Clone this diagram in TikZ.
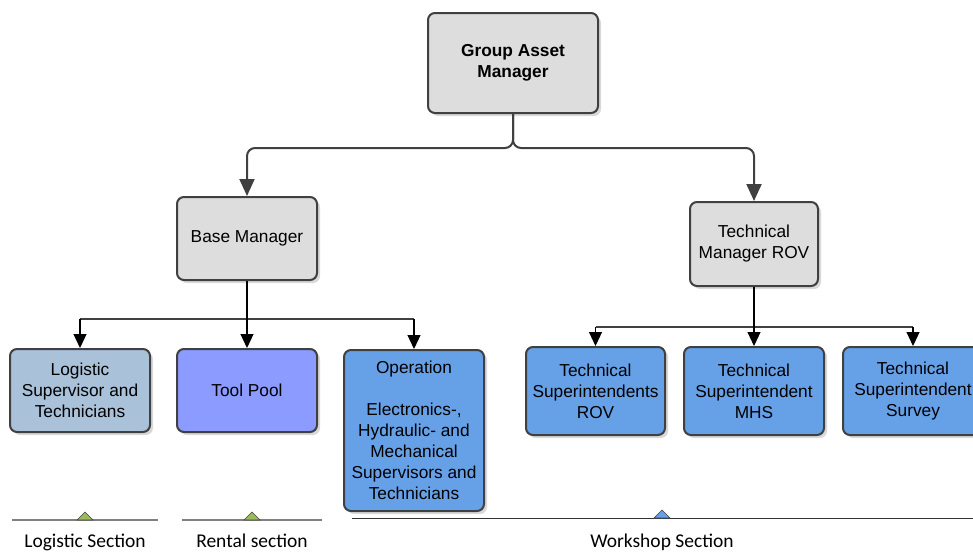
\documentclass[tikz,border=0pt]{standalone}
\usepackage{fontspec}
\setmainfont{Liberation Sans}
\newfontfamily\labelfont{Carlito}
\usetikzlibrary{arrows.meta,shadows}
\definecolor{boxgray}{HTML}{DDDDDD}
\definecolor{edgegray}{HTML}{404040}
\definecolor{logblue}{HTML}{A9C1D9}
\definecolor{poolblue}{HTML}{8B9BFF}
\definecolor{wsblue}{HTML}{66A1E8}
\definecolor{secgreen}{HTML}{9BBB59}
\definecolor{secline}{HTML}{808080}
\tikzset{
  orgbox/.style={draw=edgegray, line width=2pt, rounded corners=7pt,
    align=center, inner sep=0pt, font=\fontsize{17.3}{21}\selectfont,
    drop shadow={shadow xshift=3pt, shadow yshift=-3pt, opacity=0.3, fill=gray}},
  topedge/.style={draw=edgegray, line width=2pt, rounded corners=8pt,
    -{Triangle[length=17pt,width=15pt]}},
  subedge/.style={draw=black, line width=1.1pt,
    -{Triangle[length=14pt,width=13pt]}},
  subline/.style={draw=edgegray, line width=1.1pt},
  sectline/.style={draw=secline, line width=1.3pt},
  sectmark/.style={draw=edgegray, line width=0.6pt},
  sectlabel/.style={font=\labelfont\fontsize{19.5}{23}\selectfont, inner sep=0pt, anchor=base}
}
\begin{document}
\begin{tikzpicture}[x=1pt,y=-1pt]
\useasboundingbox (0,0) rectangle (973,552);

% management boxes
\node[orgbox, fill=boxgray, minimum width=170pt, minimum height=100pt,
      font=\bfseries\fontsize{17.3}{21}\selectfont] (gam) at (513,63)
      {\raisebox{-2pt}{\parbox{150pt}{\centering Group Asset\\Manager}}};
\node[orgbox, fill=boxgray, minimum width=140pt, minimum height=83pt] (bm)
      at (247,238.5) {Base Manager};
\node[orgbox, fill=boxgray, minimum width=128pt, minimum height=84pt] (tm)
      at (754,244) {Technical\\Manager ROV};

% section boxes
\node[orgbox, fill=logblue, minimum width=140pt, minimum height=83pt] (lg)
      at (80,390.5) {Logistic\\Supervisor and\\Technicians};
\node[orgbox, fill=poolblue, minimum width=140pt, minimum height=83pt] (tp)
      at (247,390.5) {Tool Pool};
\node[orgbox, fill=wsblue, minimum width=140pt, minimum height=161pt] (op)
      at (414,430.5) {Operation\\[21pt]Electronics-,\\Hydraulic- and\\Mechanical\\Supervisors and\\Technicians};
\node[orgbox, fill=wsblue, minimum width=139pt, minimum height=88pt] (tsr)
      at (595.5,391) {Technical\\Superintendents\\ROV};
\node[orgbox, fill=wsblue, minimum width=140pt, minimum height=88pt] (tsm)
      at (754,391) {Technical\\Superintendent\\MHS};
\node[orgbox, fill=wsblue, minimum width=140pt, minimum height=88pt] (tss)
      at (913,391) {Technical\\Superintendent\\Survey};

% top level connectors
\coordinate (gj) at (513,148);
\draw[topedge] (gam.south) -- (gj) -| (bm.north);
\draw[topedge] (gam.south) -- (gj) -| (tm.north);

% base manager connectors
\coordinate (bj) at (247,319);
\draw[subline] (bj -| lg.north) -- (bj -| op.north);
\draw[subedge] (bj -| lg.north) -- (lg.north);
\draw[subedge] (bj -| op.north) -- (op.north);
\draw[subedge] (bm.south) -- (tp.north);

% technical manager connectors
\coordinate (tj) at (754,327);
\draw[subline] (tj -| tsr.north) -- (tj -| tss.north);
\draw[subedge] (tj -| tsr.north) -- (tsr.north);
\draw[subedge] (tj -| tss.north) -- (tss.north);
\draw[subedge] (tm.south) -- (tsm.north);

% section markers
\coordinate (ls1) at (12,520);  \coordinate (ls2) at (158,520);
\coordinate (rs1) at (182,520); \coordinate (rs2) at (322,520);
\coordinate (ws1) at (352,518); \coordinate (ws2) at (973,518);
\draw[sectline] (ls1) -- (ls2);
\draw[sectline] (rs1) -- (rs2);
\draw[sectline, draw=black!80, line width=1pt] (ws1) -- (ws2);
\draw[sectmark, fill=secgreen] (77,520) -- (85,512) -- (93,520) -- cycle;
\draw[sectmark, fill=secgreen] (244,520) -- (252,512) -- (260,520) -- cycle;
\draw[sectmark, fill=wsblue] (654,518) -- (662,510) -- (670,518) -- cycle;

\node[sectlabel] (lsl) at (85,547) {Logistic Section};
\node[sectlabel] (rsl) at (252,547) {Rental section};
\node[sectlabel] (wsl) at (662,547) {Workshop Section};
\end{tikzpicture}
\end{document}
